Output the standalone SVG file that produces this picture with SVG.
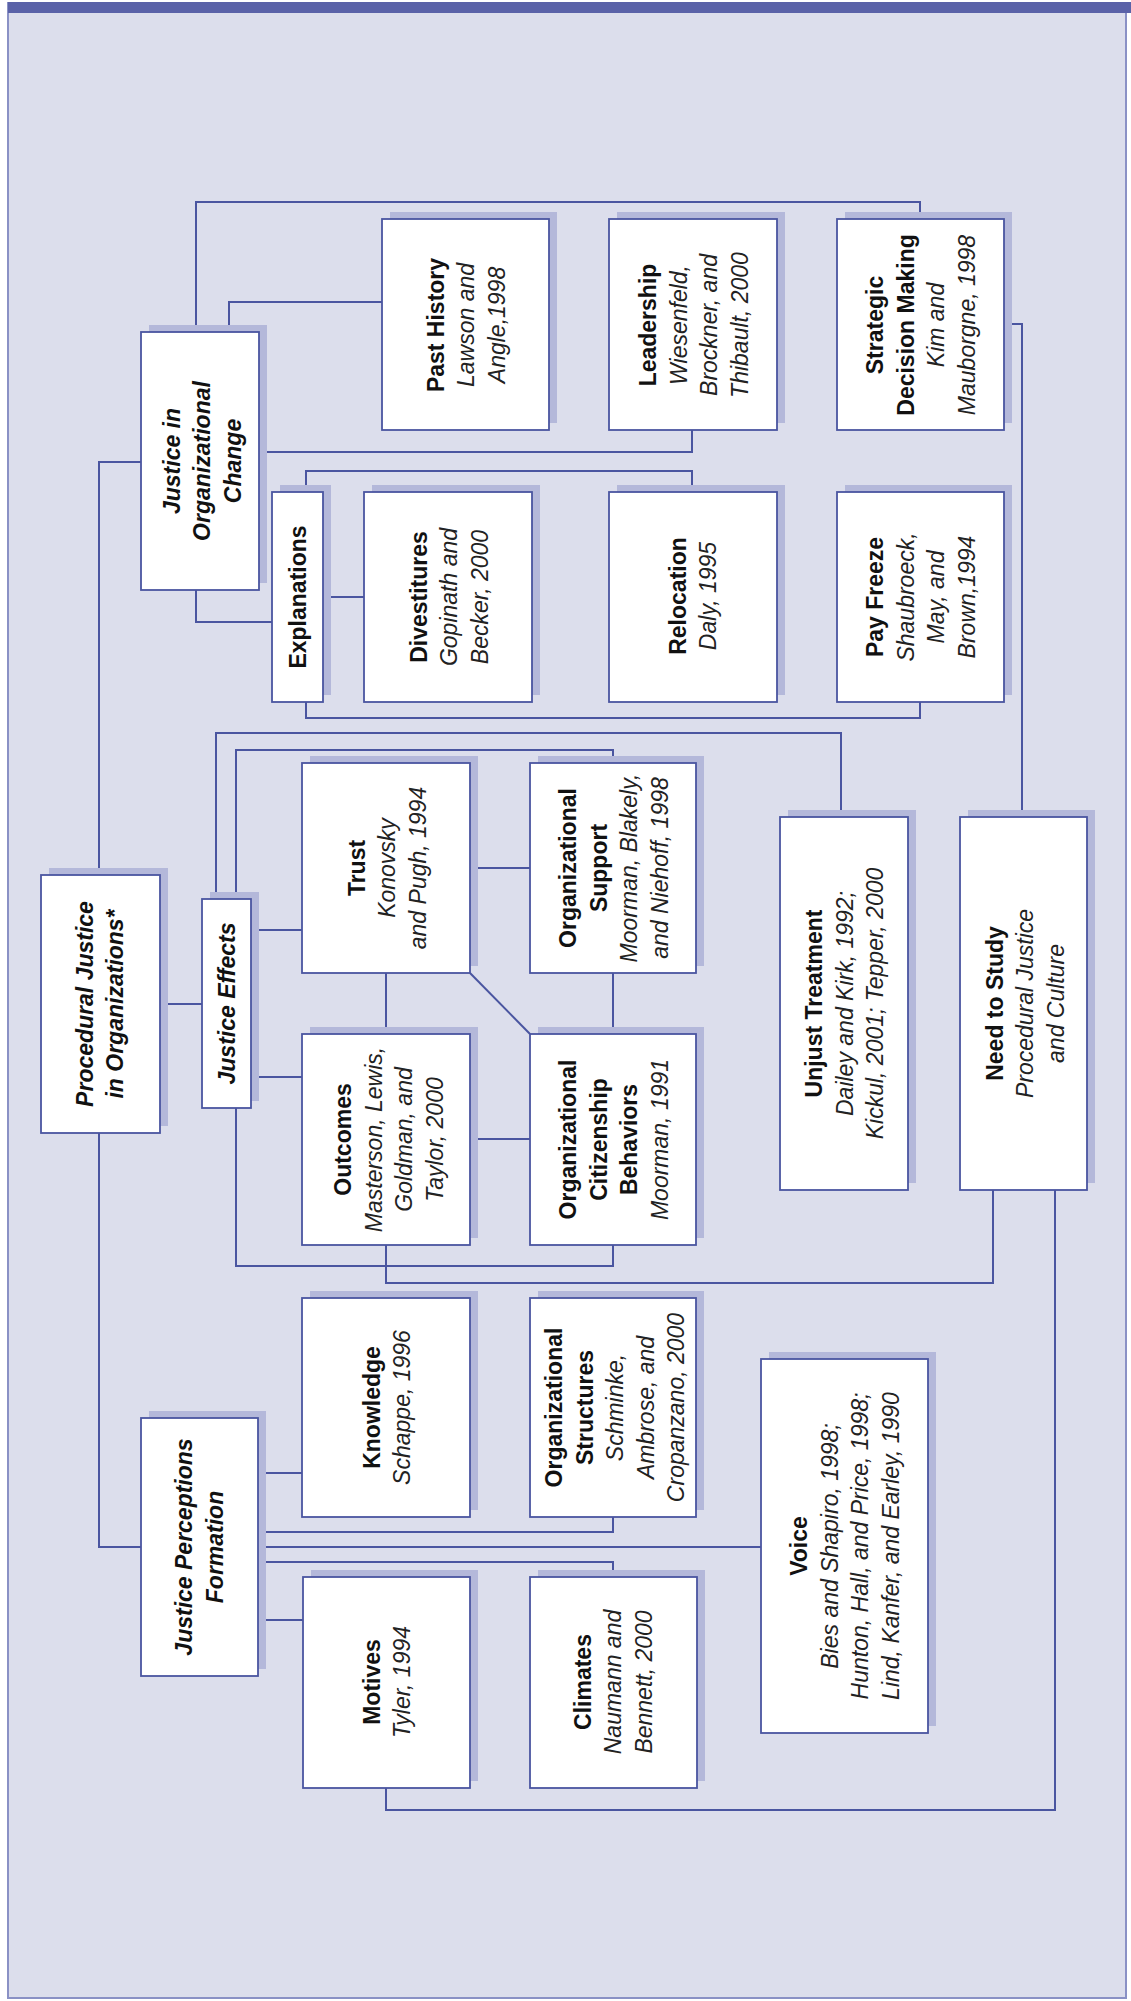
<svg xmlns="http://www.w3.org/2000/svg" width="1131" height="2001" viewBox="0 0 1131 2001">
<style>
.frame{fill:#dcdeec;stroke:#8a91c5;stroke-width:2}
.bar{fill:#5a62a8}
.sh{fill:#b4b8da}
.bx{fill:#ffffff;stroke:#4a55a0;stroke-width:1.8}
.conn path{fill:none;stroke:#4a55a0;stroke-width:2}
text{font-family:"Liberation Sans",Arial,sans-serif;font-size:23px;fill:#111111;text-anchor:middle}
.b{font-weight:bold}
.i{font-style:italic;fill:#222222}
.bi{font-weight:bold;font-style:italic}
</style>
<rect width="1131" height="2001" fill="#ffffff"/>
<rect class="frame" x="8" y="3" width="1118" height="1995"/>
<rect class="bar" x="8" y="2" width="1123" height="11"/>

<g id="connectors" class="conn">
<path d="M196,332 V202 H920 V219"/>
<path d="M229,332 V302 H382"/>
<path d="M259,452 H692 V430"/>
<path d="M306,492 V471 H692 V492"/>
<path d="M306,702 V718 H920 V702"/>
<path d="M196,590 V622 H272"/>
<path d="M323,597 H364"/>
<path d="M99,875 V462 H141"/>
<path d="M160,1004 H202"/>
<path d="M216,899 V733 H841 V817"/>
<path d="M236,899 V750 H613 V763"/>
<path d="M251,930 H302"/>
<path d="M251,1077 H302"/>
<path d="M470,868 H530"/>
<path d="M386,973 V1034"/>
<path d="M470,973 L530,1034"/>
<path d="M470,1139 H530"/>
<path d="M613,973 V1034"/>
<path d="M236,1108 V1266 H613 V1245"/>
<path d="M386,1245 V1283 H993 V1190"/>
<path d="M1004,324 H1022 V817"/>
<path d="M1055,1190 V1810 H386 V1788"/>
<path d="M99,1133 V1547 H141"/>
<path d="M258,1473 H302"/>
<path d="M258,1532 H613 V1517"/>
<path d="M258,1547 H761"/>
<path d="M258,1562 H613 V1577"/>
<path d="M258,1620 H303"/>
</g>

<g id="past-history"><rect class="sh" x="390" y="212" width="167" height="211"/><rect class="bx" x="382" y="219" width="167" height="211"/>
<text transform="translate(466,325) rotate(-90)"><tspan class="b" x="0" y="-22.5">Past History</tspan><tspan class="i" x="0" y="8">Lawson and</tspan><tspan class="i" x="0" y="38.5">Angle,1998</tspan></text></g>

<g id="leadership"><rect class="sh" x="617" y="212" width="168" height="211"/><rect class="bx" x="609" y="219" width="168" height="211"/>
<text transform="translate(694,325) rotate(-90)"><tspan class="b" x="0" y="-37.75">Leadership</tspan><tspan class="i" x="0" y="-7.25">Wiesenfeld,</tspan><tspan class="i" x="0" y="23.25">Brockner, and</tspan><tspan class="i" x="0" y="53.75">Thibault, 2000</tspan></text></g>

<g id="strategic"><rect class="sh" x="845" y="212" width="167" height="211"/><rect class="bx" x="837" y="219" width="167" height="211"/>
<text transform="translate(921,325) rotate(-90)"><tspan class="b" x="0" y="-37.75">Strategic</tspan><tspan class="b" x="0" y="-7.25">Decision Making</tspan><tspan class="i" x="0" y="23.25">Kim and</tspan><tspan class="i" x="0" y="53.75">Mauborgne, 1998</tspan></text></g>

<g id="justice-org-change"><rect class="sh" x="149" y="325" width="118" height="258"/><rect class="bx" x="141" y="332" width="118" height="258"/>
<text class="bi" transform="translate(202,461) rotate(-90)"><tspan x="0" y="-22.5">Justice in</tspan><tspan x="0" y="8">Organizational</tspan><tspan x="0" y="38.5">Change</tspan></text></g>

<g id="explanations"><rect class="sh" x="280" y="485" width="51" height="210"/><rect class="bx" x="272" y="492" width="51" height="210"/>
<text class="b" transform="translate(297.5,597) rotate(-90)"><tspan x="0" y="8">Explanations</tspan></text></g>

<g id="divestitures"><rect class="sh" x="372" y="485" width="168" height="210"/><rect class="bx" x="364" y="492" width="168" height="210"/>
<text transform="translate(449,597) rotate(-90)"><tspan class="b" x="0" y="-22.5">Divestitures</tspan><tspan class="i" x="0" y="8">Gopinath and</tspan><tspan class="i" x="0" y="38.5">Becker, 2000</tspan></text></g>

<g id="relocation"><rect class="sh" x="617" y="485" width="168" height="210"/><rect class="bx" x="609" y="492" width="168" height="210"/>
<text transform="translate(693,596) rotate(-90)"><tspan class="b" x="0" y="-7.25">Relocation</tspan><tspan class="i" x="0" y="23.25">Daly, 1995</tspan></text></g>

<g id="pay-freeze"><rect class="sh" x="845" y="485" width="167" height="210"/><rect class="bx" x="837" y="492" width="167" height="210"/>
<text transform="translate(921,597) rotate(-90)"><tspan class="b" x="0" y="-37.75">Pay Freeze</tspan><tspan class="i" x="0" y="-7.25">Shaubroeck,</tspan><tspan class="i" x="0" y="23.25">May, and</tspan><tspan class="i" x="0" y="53.75">Brown,1994</tspan></text></g>

<g id="procedural-justice"><rect class="sh" x="49" y="868" width="119" height="258"/><rect class="bx" x="41" y="875" width="119" height="258"/>
<text class="bi" transform="translate(100,1004) rotate(-90)"><tspan x="0" y="-7.25">Procedural Justice</tspan><tspan x="0" y="23.25">in Organizations*</tspan></text></g>

<g id="justice-effects"><rect class="sh" x="210" y="892" width="49" height="209"/><rect class="bx" x="202" y="899" width="49" height="209"/>
<text class="bi" transform="translate(226.5,1003.5) rotate(-90)"><tspan x="0" y="8">Justice Effects</tspan></text></g>

<g id="trust"><rect class="sh" x="310" y="756" width="168" height="210"/><rect class="bx" x="302" y="763" width="168" height="210"/>
<text transform="translate(387,868) rotate(-90)"><tspan class="b" x="0" y="-22.5">Trust</tspan><tspan class="i" x="0" y="8">Konovsky</tspan><tspan class="i" x="0" y="38.5">and Pugh, 1994</tspan></text></g>

<g id="org-support"><rect class="sh" x="538" y="756" width="166" height="210"/><rect class="bx" x="530" y="763" width="166" height="210"/>
<text transform="translate(614,868) rotate(-90)"><tspan class="b" x="0" y="-37.75">Organizational</tspan><tspan class="b" x="0" y="-7.25">Support</tspan><tspan class="i" x="0" y="23.25">Moorman, Blakely,</tspan><tspan class="i" x="0" y="53.75">and Niehoff, 1998</tspan></text></g>

<g id="outcomes"><rect class="sh" x="310" y="1027" width="168" height="211"/><rect class="bx" x="302" y="1034" width="168" height="211"/>
<text transform="translate(389,1139.5) rotate(-90)"><tspan class="b" x="0" y="-37.75">Outcomes</tspan><tspan class="i" x="0" y="-7.25">Masterson, Lewis,</tspan><tspan class="i" x="0" y="23.25">Goldman, and</tspan><tspan class="i" x="0" y="53.75">Taylor, 2000</tspan></text></g>

<g id="ocb"><rect class="sh" x="538" y="1027" width="166" height="211"/><rect class="bx" x="530" y="1034" width="166" height="211"/>
<text transform="translate(614,1139.5) rotate(-90)"><tspan class="b" x="0" y="-37.75">Organizational</tspan><tspan class="b" x="0" y="-7.25">Citizenship</tspan><tspan class="b" x="0" y="23.25">Behaviors</tspan><tspan class="i" x="0" y="53.75">Moorman, 1991</tspan></text></g>

<g id="unjust-treatment"><rect class="sh" x="788" y="810" width="128" height="373"/><rect class="bx" x="780" y="817" width="128" height="373"/>
<text transform="translate(844.5,1003.5) rotate(-90)"><tspan class="b" x="0" y="-22.5">Unjust Treatment</tspan><tspan class="i" x="0" y="8">Dailey and Kirk, 1992;</tspan><tspan class="i" x="0" y="38.5">Kickul, 2001; Tepper, 2000</tspan></text></g>

<g id="need-to-study"><rect class="sh" x="968" y="810" width="127" height="373"/><rect class="bx" x="960" y="817" width="127" height="373"/>
<text transform="translate(1025,1003.5) rotate(-90)"><tspan class="b" x="0" y="-22.5">Need to Study</tspan><tspan class="i" x="0" y="8">Procedural Justice</tspan><tspan class="i" x="0" y="38.5">and Culture</tspan></text></g>

<g id="knowledge"><rect class="sh" x="310" y="1291" width="168" height="219"/><rect class="bx" x="302" y="1298" width="168" height="219"/>
<text transform="translate(387,1407.5) rotate(-90)"><tspan class="b" x="0" y="-7.25">Knowledge</tspan><tspan class="i" x="0" y="23.25">Schappe, 1996</tspan></text></g>

<g id="org-structures"><rect class="sh" x="538" y="1291" width="166" height="219"/><rect class="bx" x="530" y="1298" width="166" height="219"/>
<text transform="translate(615,1407.5) rotate(-90)"><tspan class="b" x="0" y="-53">Organizational</tspan><tspan class="b" x="0" y="-22.5">Structures</tspan><tspan class="i" x="0" y="8">Schminke,</tspan><tspan class="i" x="0" y="38.5">Ambrose, and</tspan><tspan class="i" x="0" y="69">Cropanzano, 2000</tspan></text></g>

<g id="justice-perceptions"><rect class="sh" x="149" y="1411" width="117" height="258"/><rect class="bx" x="141" y="1418" width="117" height="258"/>
<text class="bi" transform="translate(199.5,1547) rotate(-90)"><tspan x="0" y="-7.25">Justice Perceptions</tspan><tspan x="0" y="23.25">Formation</tspan></text></g>

<g id="motives"><rect class="sh" x="311" y="1570" width="167" height="211"/><rect class="bx" x="303" y="1577" width="167" height="211"/>
<text transform="translate(387,1682) rotate(-90)"><tspan class="b" x="0" y="-7.25">Motives</tspan><tspan class="i" x="0" y="23.25">Tyler, 1994</tspan></text></g>

<g id="climates"><rect class="sh" x="538" y="1570" width="167" height="211"/><rect class="bx" x="530" y="1577" width="167" height="211"/>
<text transform="translate(613,1682) rotate(-90)"><tspan class="b" x="0" y="-22.5">Climates</tspan><tspan class="i" x="0" y="8">Naumann and</tspan><tspan class="i" x="0" y="38.5">Bennett, 2000</tspan></text></g>

<g id="voice"><rect class="sh" x="769" y="1352" width="167" height="374"/><rect class="bx" x="761" y="1359" width="167" height="374"/>
<text transform="translate(845,1546) rotate(-90)"><tspan class="b" x="0" y="-37.75">Voice</tspan><tspan class="i" x="0" y="-7.25">Bies and Shapiro, 1998;</tspan><tspan class="i" x="0" y="23.25">Hunton, Hall, and Price, 1998;</tspan><tspan class="i" x="0" y="53.75">Lind, Kanfer, and Earley, 1990</tspan></text></g>
</svg>
